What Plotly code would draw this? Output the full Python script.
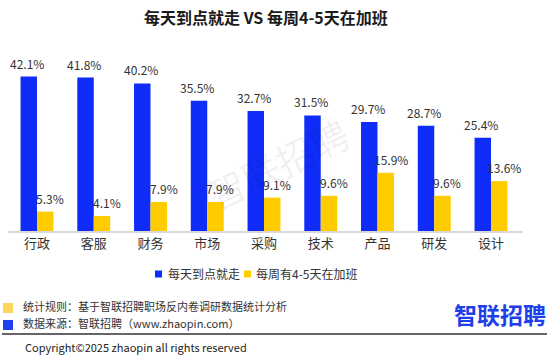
import plotly.graph_objects as go

categories = ["行政", "客服", "财务", "市场", "采购", "技术", "产品", "研发", "设计"]
on_time = [42.1, 41.8, 40.2, 35.5, 32.7, 31.5, 29.7, 28.7, 25.4]
overtime = [5.3, 4.1, 7.9, 7.9, 9.1, 9.6, 15.9, 9.6, 13.6]
series_names = ["每天到点就走", "每周有4-5天在加班"]
title_text = "每天到点就走 VS 每周4-5天在加班"

W, H = 554, 356
ML, MR, MT, MB = 8, 31, 60, 125
PW, PH = W - ML - MR, H - MT - MB
BLUE = "#0F2CF8"
YELLOW = "#FFCC00"
FONT = "Noto Sans CJK SC"


def px(x):
    return (x - ML) / PW


def py(y):
    return (H - MB - y) / PH


fig = go.Figure()
fig.add_trace(go.Bar(x=categories, y=on_time, name=series_names[0],
                     marker=dict(color=BLUE, line=dict(width=0))))
fig.add_trace(go.Bar(x=categories, y=overtime, name=series_names[1],
                     marker=dict(color=YELLOW, line=dict(width=0))))

annotations = []
for i, c in enumerate(categories):
    annotations.append(dict(x=c, y=on_time[i], xref="x", yref="y", text=f"{on_time[i]:.1f}%",
                            showarrow=False, xshift=-10, yshift=3, yanchor="bottom",
                            font=dict(size=12, color="#333333", family=FONT)))
    annotations.append(dict(x=c, y=overtime[i], xref="x", yref="y", text=f"{overtime[i]:.1f}%",
                            showarrow=False, xshift=13, yshift=3, yanchor="bottom",
                            font=dict(size=12, color="#333333", family=FONT)))

# watermark
annotations.append(dict(x=px(277), y=py(163), xref="paper", yref="paper", text="智联招聘",
                        showarrow=False, textangle=-26,
                        font=dict(size=38, color="rgba(0,0,0,0.06)", family=FONT)))
# title
annotations.append(dict(x=px(266), y=py(17), xref="paper", yref="paper",
                        text="<b>" + title_text + "</b>", showarrow=False,
                        xanchor="center", yanchor="middle",
                        font=dict(size=16, color="#1a1a1a", family=FONT)))
# custom legend texts
annotations.append(dict(x=px(166), y=py(273.5), xref="paper", yref="paper",
                        text=series_names[0], showarrow=False, xanchor="left", yanchor="middle",
                        font=dict(size=12, color="#333333", family=FONT)))
annotations.append(dict(x=px(254), y=py(273.5), xref="paper", yref="paper",
                        text=series_names[1], showarrow=False, xanchor="left", yanchor="middle",
                        font=dict(size=12, color="#333333", family=FONT)))
# footnotes
annotations.append(dict(x=px(21), y=py(306), xref="paper", yref="paper",
                        text="统计规则：基于智联招聘职场反内卷调研数据统计分析", showarrow=False,
                        xanchor="left", yanchor="middle",
                        font=dict(size=11, color="#333333", family=FONT)))
annotations.append(dict(x=px(21), y=py(323), xref="paper", yref="paper",
                        text="数据来源：智联招聘（www.zhaopin.com）", showarrow=False,
                        xanchor="left", yanchor="middle",
                        font=dict(size=11, color="#333333", family=FONT)))
annotations.append(dict(x=px(23), y=py(347), xref="paper", yref="paper",
                        text="Copyright©2025 zhaopin all rights reserved", showarrow=False,
                        xanchor="left", yanchor="middle",
                        font=dict(size=11, color="#222222", family=FONT)))
# logo
annotations.append(dict(x=px(548), y=py(314), xref="paper", yref="paper",
                        text="<b>智联招聘</b>", showarrow=False,
                        xanchor="right", yanchor="middle",
                        font=dict(size=23, color="#1F3FE8", family=FONT)))

shapes = [
    # legend squares
    dict(type="rect", xref="paper", yref="paper", x0=px(155), x1=px(162),
         y0=py(277.5), y1=py(270.5), fillcolor=BLUE, line=dict(width=0)),
    dict(type="rect", xref="paper", yref="paper", x0=px(244), x1=px(251),
         y0=py(277.5), y1=py(270.5), fillcolor=YELLOW, line=dict(width=0)),
    # footnote squares
    dict(type="rect", xref="paper", yref="paper", x0=px(3), x1=px(13),
         y0=py(313), y1=py(303), fillcolor="#FFD45C", line=dict(width=0)),
    dict(type="rect", xref="paper", yref="paper", x0=px(3), x1=px(13),
         y0=py(330), y1=py(320), fillcolor="#1F3FF0", line=dict(width=0)),
    dict(type="line", xref="paper", yref="paper", x0=px(2), x1=px(547),
         y0=py(334), y1=py(334), line=dict(color="#333333", width=1.5)),
]

fig.update_layout(
    width=W, height=H,
    margin=dict(l=ML, r=MR, t=MT, b=MB),
    paper_bgcolor="white", plot_bgcolor="white",
    barmode="group", bargap=0.42, bargroupgap=0,
    showlegend=False,
    xaxis=dict(showline=True, linecolor="#D9D9D9", linewidth=1.5, ticks="",
               tickfont=dict(size=13, color="#333333", family=FONT), showgrid=False),
    yaxis=dict(range=[0, 46.6], visible=False, showgrid=False, zeroline=False),
    annotations=annotations,
    shapes=shapes,
    font=dict(family=FONT),
)

fig.write_html("out.html", config={"displayModeBar": False},
               post_script="document.body.style.margin='0';document.body.style.padding='0';")
